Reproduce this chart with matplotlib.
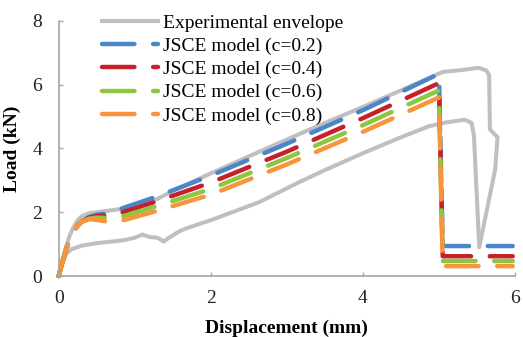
import matplotlib
matplotlib.use("Agg")
import matplotlib.pyplot as plt

plt.rcParams['font.family'] = ['Liberation Serif', 'DejaVu Serif']

# Experimental envelope (upper branch -> drop -> lower branch back to origin)
exp_x = [0, 0.05, 0.1, 0.15, 0.2, 0.25, 0.3, 0.4, 0.6, 0.75, 1.0, 1.3, 1.53, 2.0, 2.5,
         3.0, 3.5, 4.0, 4.5, 4.86, 5.05, 5.3, 5.52, 5.62, 5.66, 5.67, 5.77, 5.74, 5.53,
         5.46, 5.43, 5.34, 5.1, 4.86, 4.5, 4.0, 3.5, 3.16, 2.63, 2.0, 1.72, 1.6, 1.45,
         1.38, 1.3, 1.2, 1.1, 1.0, 0.85, 0.7, 0.5, 0.3, 0.17, 0.1, 0.05, 0]
exp_y = [0, 0.5, 0.95, 1.3, 1.55, 1.75, 1.87, 1.97, 2.03, 2.08, 2.17, 2.42, 2.7, 3.22, 3.75,
         4.28, 4.8, 5.3, 5.82, 6.2, 6.4, 6.46, 6.53, 6.45, 6.3, 4.6, 4.35, 3.35, 0.9,
         4.4, 4.8, 4.9, 4.82, 4.69, 4.35, 3.85, 3.32, 2.94, 2.31, 1.75, 1.53, 1.42, 1.2,
         1.08, 1.2, 1.22, 1.3, 1.2, 1.12, 1.08, 1.03, 0.95, 0.84, 0.7, 0.4, 0]

# JSCE model curves
mod_x = [0, 0.05, 0.1, 0.15, 0.2, 0.25, 0.3, 0.4, 0.5, 0.65, 0.87, 1.3, 2.0, 3.0, 4.0,
         5.0, 5.05, 5.97]
mod_c02 = [0, 0.45, 0.85, 1.15, 1.4, 1.58, 1.7, 1.85, 1.92, 1.97, 2.15, 2.5, 3.15, 4.15,
           5.2, 6.34, 0.94, 0.94]
mod_c04 = [0, 0.45, 0.85, 1.15, 1.4, 1.58, 1.7, 1.83, 1.88, 1.9, 2.02, 2.35, 2.93, 3.9,
           4.95, 6.05, 0.62, 0.62]
mod_c06 = [0, 0.45, 0.85, 1.15, 1.4, 1.58, 1.7, 1.8, 1.83, 1.82, 1.89, 2.2, 2.73, 3.7,
           4.73, 5.82, 0.47, 0.47]
mod_c08 = [0, 0.45, 0.85, 1.15, 1.4, 1.58, 1.7, 1.78, 1.76, 1.7, 1.76, 2.05, 2.55, 3.5,
           4.52, 5.6, 0.31, 0.31]

labels = ['JSCE model (c=0.2)', 'JSCE model (c=0.4)', 'JSCE model (c=0.6)', 'JSCE model (c=0.8)']
colors = ['#4a86c8', '#c8202a', '#8dc63f', '#f7943c']

fig = plt.figure(figsize=(5.23, 3.37), dpi=100)
ax = fig.add_axes([0.1122, 0.181, 0.8725, 0.757])

ax.plot(exp_x, exp_y, color='#bfbfbf', lw=2.9, label='Experimental envelope',
        solid_joinstyle='round', clip_on=False)
for ys, c, lab in zip([mod_c02, mod_c04, mod_c06, mod_c08], colors, labels):
    ax.plot(mod_x, ys, color=c, lw=3.2, dashes=(7.3, 4.2), dash_capstyle='round',
            label=lab, clip_on=False)

ax.set_xlim(0, 6)
ax.set_ylim(0, 8)
ax.set_xticks([0, 2, 4, 6])
ax.set_yticks([0, 2, 4, 6, 8])

for s in ['top', 'right']:
    ax.spines[s].set_visible(False)
for s in ['left', 'bottom']:
    ax.spines[s].set_color('#a6a6a6')
    ax.spines[s].set_linewidth(1.2)
ax.tick_params(direction='in', length=3, width=1, color='#a6a6a6',
               labelsize=14, labelcolor='#222222')
ax.tick_params(axis='y', pad=12)
ax.tick_params(axis='x', pad=10)

ax.set_xlabel('Displacement (mm)', fontsize=14, fontweight='bold', labelpad=9)
ax.set_ylabel('Load (kN)', fontsize=14, fontweight='bold', labelpad=8)

ax.legend(loc='upper left', bbox_to_anchor=(0.095, 1.025), frameon=False,
          fontsize=14, handlelength=2.9, handletextpad=0.25, labelspacing=0.28,
          borderpad=0, borderaxespad=0)

fig.savefig('out.png', dpi=100)
